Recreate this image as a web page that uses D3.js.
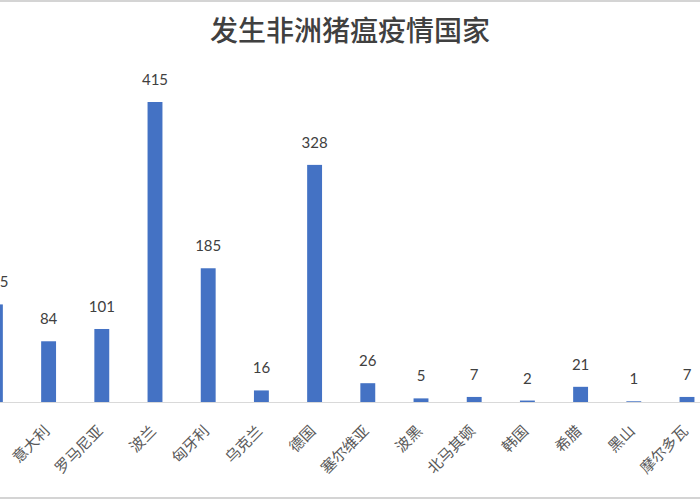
<!DOCTYPE html>
<html>
<head>
<meta charset="utf-8">
<script src="https://cdn.jsdelivr.net/npm/d3@7"></script>
<style>
  html, body { margin: 0; padding: 0; background: #fff; }
  svg { display: block; }
</style>
</head>
<body>
<svg id="chart" width="700" height="500"></svg>
<script>
// Data (first country is cut off at the left edge of the reference crop)
const categories = ["比利时", "意大利", "罗马尼亚", "波兰", "匈牙利", "乌克兰", "德国", "塞尔维亚", "波黑", "北马其顿", "韩国", "希腊", "黑山", "摩尔多瓦"];
const values = [135, 84, 101, 415, 185, 16, 328, 26, 5, 7, 2, 21, 1, 7];
const titleText = "发生非洲猪瘟疫情国家";

const svg = d3.select("#chart");
const W = 700, H = 500;

// frame lines (top / bottom)
svg.append("line").attr("x1", 0).attr("x2", W).attr("y1", 1).attr("y2", 1)
  .attr("stroke", "#d4d4d4").attr("stroke-width", 2);
svg.append("line").attr("x1", 0).attr("x2", W).attr("y1", 498).attr("y2", 498)
  .attr("stroke", "#d4d4d4").attr("stroke-width", 2);

// title
svg.append("text")
  .attr("x", 350).attr("y", 41)
  .attr("text-anchor", "middle")
  .attr("font-family", "'Noto Sans CJK SC', sans-serif")
  .attr("font-size", 28)
  .attr("font-weight", 500)
  .attr("fill", "#404040")
  .text(titleText);

const baseline = 402;
const x = d3.scaleBand()
  .domain(categories)
  .range([-31.2, 713.6])
  .paddingInner(0.72)
  .paddingOuter(0.36);

const y = d3.scaleLinear()
  .domain([0, 415])
  .range([baseline, 102]);

// baseline axis
svg.append("line")
  .attr("x1", 0).attr("x2", W)
  .attr("y1", baseline + 0.5).attr("y2", baseline + 0.5)
  .attr("stroke", "#d9d9d9").attr("stroke-width", 1);

// bars
svg.append("g").selectAll("rect")
  .data(categories)
  .join("rect")
  .attr("x", d => x(d))
  .attr("width", x.bandwidth())
  .attr("y", (d, i) => y(values[i]))
  .attr("height", (d, i) => baseline - y(values[i]))
  .attr("fill", "#4472C4");

// value labels
svg.append("g").selectAll("text")
  .data(categories)
  .join("text")
  .attr("x", d => x(d) + x.bandwidth() / 2)
  .attr("y", (d, i) => y(values[i]) - 17)
  .attr("text-anchor", "middle")
  .attr("font-family", "Lato, 'Open Sans', sans-serif")
  .attr("font-size", 15)
  .attr("fill", "#404040")
  .text((d, i) => values[i]);

// category labels (rotated -45)
svg.append("g").selectAll("text")
  .data(categories)
  .join("text")
  .attr("transform", d => {
    const cx = x(d) + x.bandwidth() / 2 + 2;
    return `translate(${cx},${baseline + 30}) rotate(-45)`;
  })
  .attr("text-anchor", "end")
  .attr("font-family", "'Noto Sans CJK SC', sans-serif")
  .attr("font-size", 15)
  .attr("fill", "#595959")
  .text(d => d);
</script>
</body>
</html>
